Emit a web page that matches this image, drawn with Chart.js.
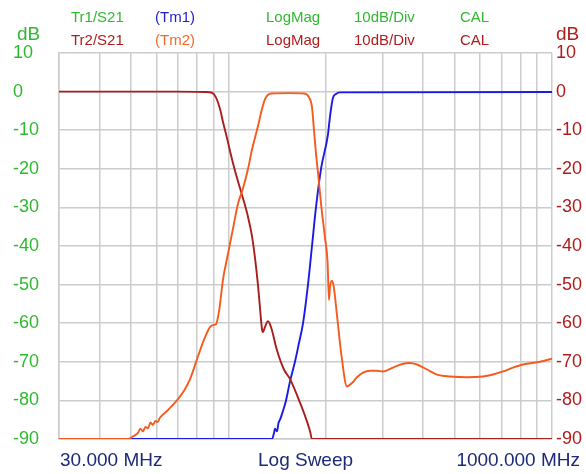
<!DOCTYPE html>
<html>
<head>
<meta charset="utf-8">
<script src="https://cdn.jsdelivr.net/npm/chart.js@4/dist/chart.umd.min.js"></script>
<style>
  body { margin: 0; background: #fff; }
  #wrap { position: relative; width: 586px; height: 474px; font-family: "Liberation Sans", Arial, sans-serif; }
  #wrap canvas { position: absolute; left: 0; top: 0; }
  .lbl { position: absolute; line-height: 1; white-space: nowrap; }
</style>
</head>
<body>
<div id="wrap">
  <canvas id="sweep" width="586" height="474"></canvas>

  <div class="lbl" style="left:71px;top:9px;font-size:15px;color:#30b830">Tr1/S21</div>
  <div class="lbl" style="left:155px;top:9px;font-size:15px;color:#2222cc">(Tm1)</div>
  <div class="lbl" style="left:266px;top:9px;font-size:15px;color:#30b830">LogMag</div>
  <div class="lbl" style="left:354px;top:9px;font-size:15px;color:#30b830">10dB/Div</div>
  <div class="lbl" style="left:460px;top:9px;font-size:15px;color:#30b830">CAL</div>

  <div class="lbl" style="left:71px;top:32px;font-size:15px;color:#b01c1c">Tr2/S21</div>
  <div class="lbl" style="left:155px;top:32px;font-size:15px;color:#f06a2a">(Tm2)</div>
  <div class="lbl" style="left:266px;top:32px;font-size:15px;color:#b01c1c">LogMag</div>
  <div class="lbl" style="left:354px;top:32px;font-size:15px;color:#b01c1c">10dB/Div</div>
  <div class="lbl" style="left:460px;top:32px;font-size:15px;color:#b01c1c">CAL</div>

  <div class="lbl" style="left:17px;top:24px;font-size:19px;color:#30b830">dB</div>
  <div class="lbl" style="left:556px;top:24px;font-size:19px;color:#b01c1c">dB</div>

  <div class="lbl" style="left:60px;top:450px;font-size:19px;color:#1c2a78">30.000 MHz</div>
  <div class="lbl" style="left:258px;top:450px;font-size:19px;color:#1c2a78">Log Sweep</div>
  <div class="lbl" style="right:6px;top:450px;font-size:19px;color:#1c2a78">1000.000 MHz</div>
</div>

<script>
// frequency grid (MHz) for the log sweep
const freqGrid = [30, 40, 50, 60, 70, 80, 90, 100, 200, 300, 400, 500, 600, 700, 800, 900, 1000];

// Tr2 - low pass (dark red)
const lpFreq = [30, 70, 85, 89.1, 91.6, 94.3, 96.4, 99.1, 101.3, 104.9, 108.7, 111.8, 115.1, 118.4, 120.9,
  123.5, 125.3, 127.1, 128.0, 129.8, 132.7, 135.5, 141.4, 148.6, 155.2, 166.6, 175.1, 178.9, 181.4, 1000];
const lpDb = [0, 0, -0.1, -0.3, -1.5, -4.5, -8, -12, -15.5, -20.5, -25, -28.5, -32.5, -37.5, -43,
  -50, -56, -61.5, -62.3, -61, -59.5, -61, -67, -72, -74.5, -80.6, -85.5, -88, -90, -90];

// Tm2 - band pass (orange)
const bpFreq = [30, 49.0, 50.8, 52.6, 53.5, 54.5, 55.5, 56.5, 57.5, 58.5, 59.5, 60.5, 61.5, 65.1, 69.4,
  73.0, 76.2, 80.6, 84.7, 87.8, 89.7, 91.6, 93.6, 96.4, 99.8, 103.4, 107.2, 111.1, 115.1, 118.4,
  123.5, 127.1, 129.8, 132.7, 136.5, 155.2, 171.4, 175.1, 178.9, 181.4, 184.0, 186.6, 189.3, 193.4, 199.0,
  202.6, 204.7, 206.2, 209.1, 212.1, 216.7, 224.5, 232.6, 241.1, 249.8, 260.7, 274.0, 288.0, 300.6, 322.9,
  346.4, 364.2, 382.8, 411.1, 441.4, 484.3, 546.3, 612, 657, 705.6, 757.7, 813.9, 918, 1000];
const bpDb = [-90, -90, -89.3, -88.4, -87.3, -88, -86.9, -87.2, -85.7, -86.4, -85.3, -85.6, -84.5, -82.5, -80,
  -77.5, -74.5, -68.6, -63.7, -61, -60.5, -60.3, -57, -48.5, -42, -35.5, -29, -25, -20, -15,
  -9, -4.5, -2, -0.8, -0.5, -0.4, -0.5, -0.8, -2, -4, -10, -16, -21, -29, -38,
  -44, -54, -50.5, -49, -51, -58, -69.4, -76.4, -75.5, -74, -72.8, -72.3, -72.3, -72.5, -71.5,
  -70.5, -70.3, -70.7, -72, -73.3, -73.8, -74, -73.8, -73.3, -72.5, -71.5, -70.7, -70, -69.2];

// Tm1 - high pass (blue)
const hpFreq = [30, 136.5, 138.4, 139.4, 141.4, 143.0, 144.5, 146.6, 150.8, 155.2, 160.7, 165, 170.2, 176.3,
  181.4, 186.6, 193.4, 203.3, 206.2, 210.6, 215.2, 221.4, 1000];
const hpDb = [-90, -90, -88.5, -87.3, -88, -85.8, -85, -83.5, -80, -75, -70, -65.5, -60, -50,
  -40, -30, -20, -11, -6.4, -1.6, -0.6, -0.2, -0.1];

const gridColor = '#cccccc';
const green = '#30b830';
const darkRed = '#b01c1c';

function toPoints(xs, ys) {
  return xs.map((f, i) => ({ x: f, y: ys[i] }));
}

const ctx = document.getElementById('sweep').getContext('2d');
new Chart(ctx, {
  type: 'line',
  data: {
    datasets: [
      { label: 'Tm2', data: toPoints(bpFreq, bpDb), borderColor: '#f55a1e' },
      { label: 'Tr2', data: toPoints(lpFreq, lpDb), borderColor: '#a81e1e' },
      { label: 'Tm1', data: toPoints(hpFreq, hpDb), borderColor: '#1a1ae6' }
    ]
  },
  options: {
    responsive: false,
    animation: false,
    layout: { padding: { left: 13, right: 0, top: 53, bottom: 35 } },
    elements: {
      line: { borderWidth: 1.9, tension: 0, cubicInterpolationMode: 'monotone' },
      point: { radius: 0 }
    },
    plugins: {
      legend: { display: false },
      tooltip: { enabled: false }
    },
    scales: {
      x: {
        type: 'logarithmic',
        min: 30,
        max: 1000,
        ticks: { display: false },
        grid: { color: gridColor, lineWidth: 1.5, drawTicks: false },
        border: { color: gridColor, width: 1.5 },
        afterBuildTicks: s => { s.ticks = freqGrid.map(v => ({ value: v })); },
        afterFit: s => { s.height = 0; }
      },
      y: {
        position: 'left',
        min: -90,
        max: 10,
        ticks: { stepSize: 10, color: green, font: { size: 18, family: 'Liberation Sans' }, crossAlign: 'far', padding: 0 },
        grid: { color: gridColor, lineWidth: 1.5, drawTicks: false },
        border: { color: gridColor, width: 1.5 },
        afterFit: s => { s.width = 46; }
      },
      y2: {
        position: 'right',
        min: -90,
        max: 10,
        ticks: { stepSize: 10, color: darkRed, font: { size: 18, family: 'Liberation Sans' }, padding: 4 },
        grid: { display: false, drawTicks: false },
        border: { display: false },
        afterFit: s => { s.width = 34; }
      }
    }
  }
});
</script>
</body>
</html>
